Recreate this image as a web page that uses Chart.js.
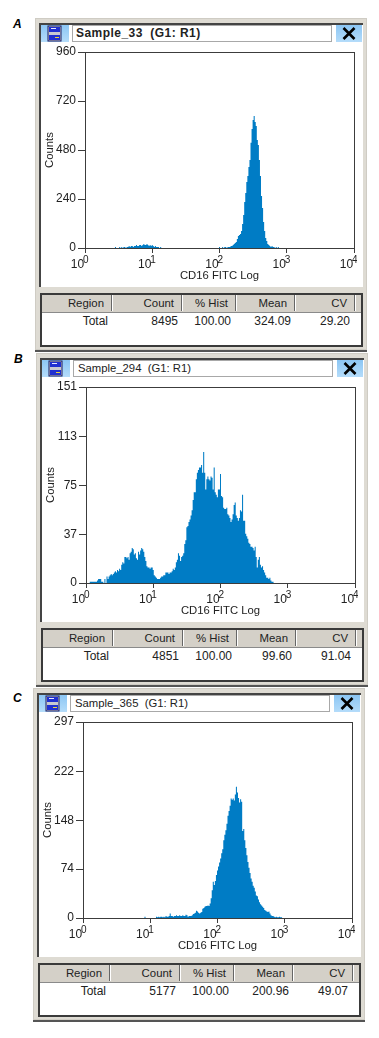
<!DOCTYPE html>
<html>
<head>
<meta charset="utf-8">
<title>CD16 FITC histograms</title>
<script src="https://cdn.jsdelivr.net/npm/chart.js@4"></script>
<style>
  html, body { margin: 0; padding: 0; background: #fff; }
  body { position: relative; width: 379px; height: 1038px; overflow: hidden; font: 12px "Liberation Sans", Arial, sans-serif; color: #222; }
  .panel-letter { position: absolute; font: italic bold 12px "Liberation Sans", Arial, sans-serif; color: #000; }
  .outer { position: absolute; background: #dedbd3; box-shadow: inset 0 0 0 1px #cfccc4; border-bottom: 2px solid #555; }
  .pane { position: absolute; background: #fff; border-left: 2px solid #444; border-top: 2px solid #444; box-sizing: border-box; }
  .titlebox { position: absolute; background: #fff; border: 1px solid #a8a8a8; box-sizing: border-box; line-height: 15px; padding-left: 4px; white-space: pre; font-size: 11.3px; }
  .titlebox.bold { font-weight: bold; font-size: 12px; letter-spacing: 0.45px; padding-left: 3px; }
  .btn { position: absolute; background: linear-gradient(#8cc6f4, #b4dcfa); }
  .tbl { position: absolute; background: #fff; border: 2px solid #3a3a3a; box-sizing: border-box; }
  .hdr { position: absolute; background: #d4d0c8; border-bottom: 1px solid #8a8a8a; }
  .sep { position: absolute; width: 1px; background: #666; border-right: 1px solid #fff; }
  .cell { position: absolute; text-align: right; white-space: pre; }
  .cell.head { font-size: 11.4px; }
  canvas { position: absolute; }
</style>
</head>
<body>
<script>
// tick labels
const xTickBase = '10';
const xTickExponents = ['0', '1', '2', '3', '4'];
const yTicksA = [0, 240, 480, 720, 960];
const yTicksB = [0, 37, 75, 113, 151];
const yTicksC = [0, 74, 148, 222, 297];

// table text
const tableHeaders = ['Region', 'Count', '% Hist', 'Mean', 'CV'];
const rowA = ['Total', '8495', '100.00', '324.09', '29.20'];
const rowB = ['Total', '4851', '100.00', '99.60', '91.04'];
const rowC = ['Total', '5177', '100.00', '200.96', '49.07'];

// counts per channel (256 channels = 4 decades)
const bumpStartA = 29;
const bumpA = [5,0,0,0,5,0,5,0,5,5,0,5,5,10,5,10,10,5,10,10,15,10,10,15,15,10,15,20,15,15,20,15,10,15,10,15,10,5,10,5,5,5,0,5];
const peakStartA = 128;
const peakA = [5,0,0,5,0,5,5,0,5,5,5,10,10,15,20,25,29,44,59,64,69,83,118,162,225,270,323,353,397,431,515,583,627,647,617,598,529,505,431,353,255,196,127,83,49,34,20,15,10,5,10,5,5,0,5,0,5];

const startB = 4;
const countsB = [1,1,1,1,1,1,1,2,3,3,3,1,1,0,3,0,5,3,5,6,7,6,7,8,9,8,10,9,11,10,14,16,15,20,20,19,20,18,23,24,27,26,22,23,19,18,24,22,25,27,26,24,20,17,13,12,12,11,12,12,10,6,5,4,3,3,3,4,5,5,6,6,8,8,8,7,8,8,9,11,10,12,16,18,23,21,17,20,21,23,30,33,43,44,47,49,52,56,64,70,70,80,85,87,89,89,91,85,101,85,72,80,82,80,79,82,81,72,89,70,68,66,72,72,84,67,66,58,57,57,58,53,52,50,47,49,53,60,62,52,50,48,50,56,55,68,48,48,38,36,34,31,30,28,28,27,25,28,20,12,18,20,14,12,13,10,8,6,4,4,3,4,2,1,1];

const startC = 59;
const countsC = [2,0,0,0,0,0,0,0,0,0,0,2,1,2,1,2,2,1,2,1,3,2,2,3,7,3,3,2,3,3,4,3,3,4,3,3,4,3,3,5,4,2,3,3,3,4,6,7,8,11,10,8,7,8,9,14,15,17,18,18,19,18,22,30,42,55,50,56,65,72,78,84,90,98,104,118,126,133,143,155,162,170,181,179,181,178,187,199,190,182,175,180,176,132,135,118,106,95,85,76,68,60,55,49,46,40,34,33,28,24,21,19,17,15,12,11,10,9,10,7,4,3,3,2,1,2,1,1,2,1,1];

const histColor = '#007cc5';
const axisColor = '#3c3c3c';
const fontFamily = '"Liberation Sans", Arial, sans-serif';
const fontSpec = { family: fontFamily, size: 12 };

// draws the box around the plot and the exponents of the x labels
const framePlugin = {
    id: 'frame',
    afterDraw(chart) {
        const a = chart.chartArea;
        const c = chart.ctx;
        c.save();
        c.strokeStyle = axisColor;
        c.lineWidth = 1;
        c.strokeRect(Math.round(a.left) + 0.5, Math.round(a.top) + 0.5, Math.round(a.width), Math.round(a.height));
        c.fillStyle = '#222';
        c.font = '10px ' + fontFamily;
        c.textAlign = 'left';
        c.textBaseline = 'alphabetic';
        chart.scales.x.ticks.forEach((t, i) => {
            c.fillText(xTickExponents[i], chart.scales.x.getPixelForTick(i) - 2, a.bottom + 15);
        });
        c.restore();
    }
};

// each run of channels is closed with a zero on both sides so the fill drops to the axis
function toPoints(segments) {
    const pts = [];
    segments.forEach(seg => {
        pts.push({ x: seg.start - 1, y: 0 });
        seg.values.forEach((y, i) => pts.push({ x: seg.start + i, y: y }));
        pts.push({ x: seg.start + seg.values.length, y: 0 });
    });
    return pts;
}

function el(cls, left, top, width, height, text) {
    const d = document.createElement('div');
    d.className = cls;
    d.style.left = left + 'px';
    d.style.top = top + 'px';
    if (width != null) d.style.width = width + 'px';
    if (height != null) d.style.height = height + 'px';
    if (text != null) d.textContent = text;
    document.body.appendChild(d);
    return d;
}

function iconSvg(dx, dy) {
    // small file-drawer icon in the title bar
    const wrap = el('btn', dx + 41, dy + 25, 28, 17);
    wrap.innerHTML = '<svg width="28" height="17" style="display:block"><rect x="7" y="1" width="13" height="15" fill="#c8c8d0" stroke="#1a1a60"/><rect x="8" y="2" width="11" height="5" fill="#2030d0"/><rect x="8" y="10" width="11" height="5" fill="#2030d0"/><rect x="10" y="3" width="5" height="1" fill="#e8e8ff"/><rect x="14" y="12" width="4" height="1" fill="#e8d040"/></svg>';
}

function closeSvg(dx, dy) {
    const wrap = el('btn', dx + 336, dy + 25, 26, 17);
    wrap.innerHTML = '<svg width="26" height="17" style="display:block"><path d="M7.5 3 L18.5 14 M18.5 3 L7.5 14" stroke="#000" stroke-width="2.6" fill="none"/></svg>';
}

// one histogram window, dx/dy = offset from window A
function buildWindow(opt) {
    const dx = opt.dx, dy = opt.dy;
    el('panel-letter', opt.letterX, opt.letterY, null, null, opt.letter);

    el('outer', dx + 35, dy + 18, 332, 332);
    el('pane', dx + 39, dy + 23, 324, 264);
    el(opt.bold ? 'titlebox bold' : 'titlebox', dx + 72, dy + 25, 260, 17, opt.title);
    iconSvg(dx, dy);
    closeSvg(dx, dy);

    // table under the plot
    el('tbl', dx + 40, dy + 293, 323, 54);
    el('hdr', dx + 42, dy + 295, 319, 17);
    const seps = [111, 181, 235, 294, 354];
    const headEnds = [104, 174, 228, 287, 347];
    const cellEnds = [108, 178, 231, 291, 350];
    seps.forEach(x => el('sep', dx + x, dy + 295, null, 16));
    tableHeaders.forEach((h, i) => {
        el('cell head', dx + headEnds[i] - 60, dy + 297, 60, 14, h);
        el('cell', dx + cellEnds[i] - 60, dy + 314, 60, 14, opt.row[i]);
    });

    const canvas = document.createElement('canvas');
    canvas.style.left = (dx + 41) + 'px';
    canvas.style.top = (dy + 44) + 'px';
    canvas.style.width = '316px';
    canvas.style.height = '242px';
    canvas.width = 316;
    canvas.height = 242;
    document.body.appendChild(canvas);

    new Chart(canvas.getContext('2d'), {
        type: 'line',
        data: {
            datasets: [{
                data: toPoints(opt.segments),
                backgroundColor: histColor,
                borderWidth: 0,
                pointRadius: 0,
                stepped: 'middle',
                fill: 'origin'
            }]
        },
        plugins: [framePlugin],
        options: {
            responsive: false,
            animation: false,
            layout: { padding: { left: 0, top: 8, right: 3, bottom: 0 } },
            plugins: { legend: { display: false }, tooltip: { enabled: false } },
            scales: {
                x: {
                    type: 'linear',
                    offset: false,
                    min: 0,
                    max: 256,
                    border: { display: true, color: axisColor },
                    grid: { offset: false, drawOnChartArea: false, drawTicks: true, tickLength: 5, color: axisColor },
                    ticks: {
                        stepSize: 64,
                        autoSkip: false,
                        maxRotation: 0,
                        padding: 4,
                        labelOffset: -7.5,
                        color: '#222',
                        font: fontSpec,
                        callback: () => xTickBase
                    },
                    title: { display: true, text: 'CD16 FITC Log', color: '#222', font: { family: fontFamily, size: 11.3 }, padding: { top: 0, bottom: 3 } },
                    afterFit(scale) {
                        scale.height = 38;
                        scale.paddingLeft = 0;
                        scale.paddingRight = 0;
                    }
                },
                y: {
                    min: 0,
                    max: opt.yTicks[opt.yTicks.length - 1],
                    border: { display: true, color: axisColor },
                    grid: { drawOnChartArea: false, drawTicks: true, tickLength: 7, color: axisColor },
                    afterBuildTicks(scale) {
                        scale.ticks = opt.yTicks.map(v => ({ value: v }));
                    },
                    ticks: { autoSkip: false, padding: 2, color: '#222', font: fontSpec },
                    title: { display: true, text: 'Counts', color: '#222', font: { family: fontFamily, size: 11.3 }, padding: { top: 2, bottom: 0 } },
                    afterFit(scale) {
                        scale.width = 44;
                        scale.paddingTop = 0;
                        scale.paddingBottom = 0;
                    }
                }
            }
        }
    });
}

buildWindow({
    dx: 0, dy: 0, letter: 'A', letterX: 13, letterY: 17, title: 'Sample_33  (G1: R1)', bold: true,
    yTicks: yTicksA, row: rowA,
    segments: [{ start: bumpStartA, values: bumpA }, { start: peakStartA, values: peakA }]
});
buildWindow({
    dx: 1, dy: 335, letter: 'B', letterX: 14, letterY: 352, title: 'Sample_294  (G1: R1)', bold: false,
    yTicks: yTicksB, row: rowB,
    segments: [{ start: startB, values: countsB }]
});
buildWindow({
    dx: -2, dy: 670, letter: 'C', letterX: 13, letterY: 691, title: 'Sample_365  (G1: R1)', bold: false,
    yTicks: yTicksC, row: rowC,
    segments: [{ start: startC, values: countsC }]
});
</script>
</body>
</html>
